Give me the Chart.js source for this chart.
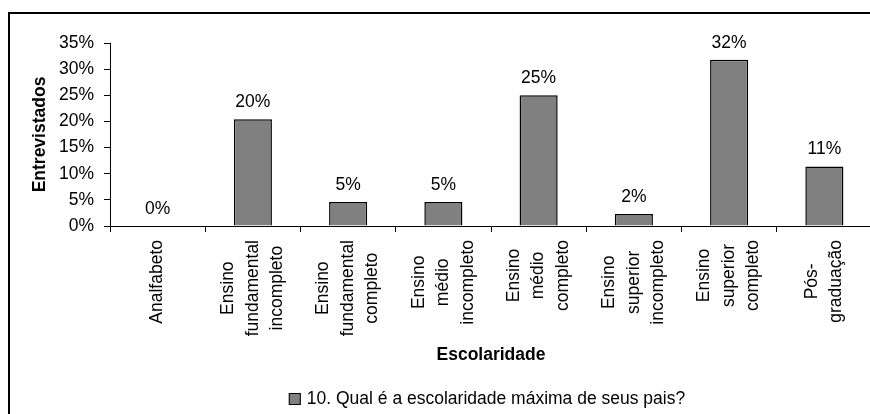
<!DOCTYPE html>
<html>
<head>
<meta charset="utf-8">
<script src="https://cdn.jsdelivr.net/npm/chart.js@4.4.0/dist/chart.umd.min.js"></script>
<style>
    html, body { margin: 0; padding: 0; background: #fff; overflow: hidden; }
    #frame {
        position: absolute;
        left: 8px;
        top: 12px;
        width: 880px;
        height: 400px;
        border-left: 2px solid #000;
        border-top: 2px solid #000;
    }
</style>
</head>
<body>
<div id="frame"><canvas id="greatChart"></canvas></div>
<script>
// data
const categories = [
    ['Analfabeto'],
    ['Ensino', 'fundamental', 'incompleto'],
    ['Ensino', 'fundamental', 'completo'],
    ['Ensino', 'médio', 'incompleto'],
    ['Ensino', 'médio', 'completo'],
    ['Ensino', 'superior', 'incompleto'],
    ['Ensino', 'superior', 'completo'],
    ['Pós-', 'graduação']
];
const values = [0, 20.4, 4.6, 4.6, 25, 2.3, 31.8, 11.4];
const seriesLabel = '10. Qual é a escolaridade máxima de seus pais?';
const yMax = 35;
const yStep = 5;
const xTitle = 'Escolaridade';
const yTitle = 'Entrevistados';

const FAMILY = '"Liberation Sans", Arial, sans-serif';
const SIZE = 17.5;
const BAR_FILL = '#808080';

Chart.defaults.font.family = FAMILY;
Chart.defaults.font.size = SIZE;
Chart.defaults.color = '#000';

// category labels, value labels and legend drawn like the spreadsheet does
const excelLabels = {
    id: 'excelLabels',
    afterDraw(chart) {
        const ctx = chart.ctx;
        const area = chart.chartArea;
        const xs = chart.scales.x;
        const meta = chart.getDatasetMeta(0);
        ctx.save();
        ctx.fillStyle = '#000';
        ctx.font = SIZE + 'px ' + FAMILY;

        // value labels above bars
        ctx.textAlign = 'center';
        ctx.textBaseline = 'alphabetic';
        meta.data.forEach((bar, i) => {
            ctx.fillText(Math.round(values[i]) + '%', bar.x, bar.y - 12);
        });

        // rotated, centred multi-line category labels
        ctx.textBaseline = 'middle';
        categories.forEach((lines, i) => {
            const cx = xs.getPixelForValue(i);
            const w = Math.max(...lines.map(l => ctx.measureText(l).width));
            const cy = area.bottom + 14 + w / 2;
            lines.forEach((line, j) => {
                ctx.save();
                ctx.translate(cx + (j - (lines.length - 1) / 2) * 24.5, cy);
                ctx.rotate(-Math.PI / 2);
                ctx.fillText(line, 0, 0);
                ctx.restore();
            });
        });

        // legend
        const tw = ctx.measureText(seriesLabel).width;
        const total = 12 + 6 + tw;
        const lx = (area.left + area.right) / 2 - total / 2 - 4;
        const ly = area.bottom + 173;
        ctx.fillStyle = BAR_FILL;
        ctx.fillRect(lx, ly - 6, 12, 12);
        ctx.strokeStyle = '#000';
        ctx.lineWidth = 1;
        ctx.strokeRect(lx + 0.5, ly - 5.5, 11, 11);
        ctx.fillStyle = '#000';
        ctx.textAlign = 'left';
        ctx.fillText(seriesLabel, lx + 18, ly);
        ctx.restore();
    }
};

const ctx = document.getElementById('greatChart').getContext('2d');
new Chart(ctx, {
    type: 'bar',
    data: {
        labels: categories,
        datasets: [{
            label: seriesLabel,
            data: values,
            backgroundColor: BAR_FILL,
            borderColor: '#000',
            borderWidth: 1.5,
            categoryPercentage: 1,
            barPercentage: 0.4
        }]
    },
    options: {
        responsive: true,
        maintainAspectRatio: false,
        animation: false,
        layout: {
            padding: { top: 29, right: 18, left: 0, bottom: 0 }
        },
        plugins: {
            legend: { display: false },
            tooltip: { enabled: false }
        },
        scales: {
            x: {
                afterFit: function (scale) { scale.height = 188; },
                grid: {
                    display: true,
                    drawOnChartArea: false,
                    drawTicks: true,
                    tickLength: 6,
                    color: '#000',
                    offset: true
                },
                border: { color: '#000', width: 1 },
                ticks: { display: false },
                title: {
                    display: true,
                    text: xTitle,
                    font: { weight: 'bold', size: SIZE },
                    padding: { top: 0, bottom: 48.5 }
                }
            },
            y: {
                min: 0,
                max: yMax,
                afterFit: function (scale) { scale.width = 100; },
                grid: {
                    display: true,
                    drawOnChartArea: false,
                    drawTicks: true,
                    tickLength: 6,
                    color: '#000'
                },
                border: { color: '#000', width: 1 },
                ticks: {
                    stepSize: yStep,
                    padding: 10,
                    callback: function (v) { return v + '%'; }
                },
                title: {
                    display: true,
                    text: yTitle,
                    font: { weight: 'bold', size: SIZE },
                    padding: { top: 19.5, bottom: 0 }
                }
            }
        }
    },
    plugins: [excelLabels]
});
</script>
</body>
</html>
